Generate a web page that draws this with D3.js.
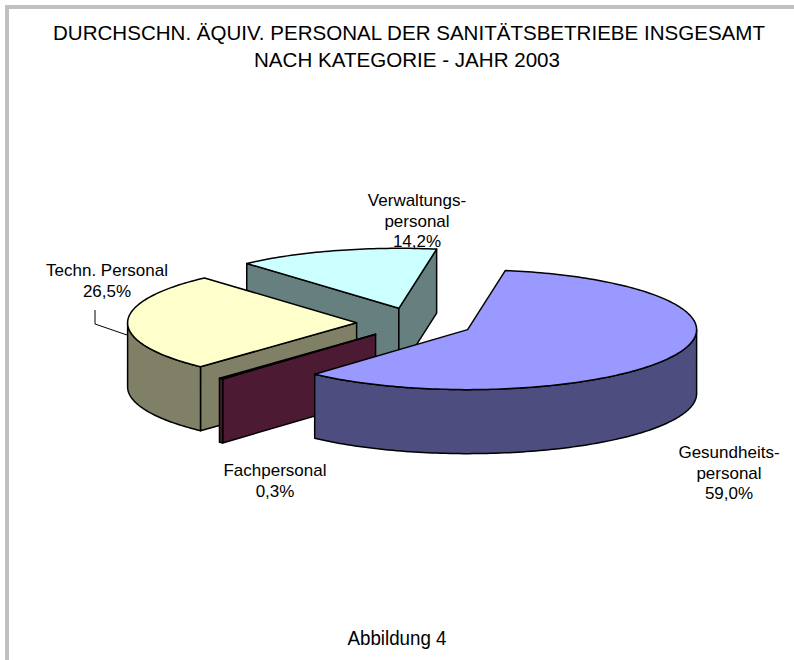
<!DOCTYPE html>
<html>
<head>
<meta charset="utf-8">
<script src="https://cdn.jsdelivr.net/npm/d3@7"></script>
<style>
  body { margin: 0; background: #fff; }
  text { font-family: "Liberation Sans", Arial, sans-serif; fill: #000; }
  .narrow { font-family: "Liberation Sans Narrow", "Arial Narrow", "Liberation Sans", sans-serif; }
</style>
</head>
<body>
<svg></svg>
<script>
const width = 794;
const height = 660;

// data
const categories = ['Gesundheitspersonal', 'Fachpersonal', 'Techn. Personal', 'Verwaltungspersonal'];
const shares = [59.0, 0.3, 26.5, 14.2];
const labelLines = [
	['Gesundheits-', 'personal', '59,0%'],
	['Fachpersonal', '0,3%'],
	['Techn. Personal', '26,5%'],
	['Verwaltungs-', 'personal', '14,2%']
];
const titleLines = ['DURCHSCHN. ÄQUIV. PERSONAL DER SANITÄTSBETRIEBE INSGESAMT', 'NACH KATEGORIE - JAHR 2003'];
const caption = 'Abbildung 4';

const svg = d3.select('svg')
	.attr('width', width)
	.attr('height', height);

// frame (top and left only)
svg.append('path')
	.attr('d', `M7,${height} V7 H${width}`)
	.attr('fill', 'none')
	.attr('stroke', '#c0c0c0')
	.attr('stroke-width', 4);

// title, squeezed to look like a narrow face
svg.append('g')
	.selectAll('text')
	.data(titleLines)
	.join('text')
		.attr('class', 'narrow')
		.attr('x', (d, i) => i === 0 ? 409 : 407)
		.attr('y', (d, i) => 40 + i * 27)
		.attr('text-anchor', 'middle')
		.attr('font-size', 21)
		.attr('textLength', (d, i) => i === 0 ? 712 : 306)
		.attr('lengthAdjust', 'spacingAndGlyphs')
		.text(d => d);

svg.append('text')
	.attr('class', 'narrow')
	.attr('x', 397)
	.attr('y', 645)
	.attr('text-anchor', 'middle')
	.attr('font-size', 21)
	.attr('textLength', 99)
	.attr('lengthAdjust', 'spacingAndGlyphs')
	.text(caption);

// 3d pie
const cx = 415, cy = 323;
const rx = 229, ry = 60;
const depth = 64;
const explode = 0.255;
const topColors = ['#9999ff', '#993366', '#ffffcc', '#ccffff'];
const sideColors = ['#4d4d80', '#4d1a33', '#808066', '#668080'];

const color = d3.scaleOrdinal().domain(categories).range(topColors);
const sideColor = d3.scaleOrdinal().domain(categories).range(sideColors);

const pie = d3.pie()
	.sort(null)
	.value(d => d.value)
	.startAngle(9.5 * Math.PI / 180)
	.endAngle(9.5 * Math.PI / 180 + 2 * Math.PI);

const slices = pie(categories.map((c, i) => ({ name: c, value: shares[i], lines: labelLines[i] })));

const line = d3.line();

slices.forEach(s => {
	const mid = (s.startAngle + s.endAngle) / 2;
	s.ox = cx + explode * rx * Math.sin(mid);
	s.oy = cy - explode * ry * Math.cos(mid);
	s.pt = a => [s.ox + rx * Math.sin(a), s.oy - ry * Math.cos(a)];
	s.arcPts = (a0, a1) => {
		const n = Math.max(2, Math.ceil((a1 - a0) / 0.02));
		return d3.range(n + 1).map(k => s.pt(a0 + (a1 - a0) * k / n));
	};
	s.maxY = d3.max(s.arcPts(s.startAngle, s.endAngle), p => p[1]);
});

// back to front
const drawOrder = slices.slice().sort((a, b) => a.maxY - b.maxY);

const pieG = svg.append('g')
	.attr('stroke', '#000')
	.attr('stroke-width', 1.5)
	.attr('stroke-linejoin', 'round');

drawOrder.forEach(s => {
	const g = pieG.append('g');
	const side = sideColor(s.data.name);
	const down = p => [p[0], p[1] + depth];

	// radial walls
	const walls = [];
	if (Math.sin(s.startAngle) < 0) walls.push(s.startAngle);
	if (Math.sin(s.endAngle) > 0) walls.push(s.endAngle);
	walls.forEach(a => {
		const p = s.pt(a), c = [s.ox, s.oy];
		g.append('path')
			.attr('d', line([c, p, down(p), down(c)]) + 'Z')
			.attr('fill', side);
	});

	// outer wall, front half only
	[0, 1].forEach(k => {
		const lo = Math.max(s.startAngle, Math.PI / 2 + k * 2 * Math.PI);
		const hi = Math.min(s.endAngle, 3 * Math.PI / 2 + k * 2 * Math.PI);
		if (hi <= lo) return;
		const top = s.arcPts(lo, hi);
		const bottom = top.map(down).reverse();
		g.append('path')
			.attr('d', line(top.concat(bottom)) + 'Z')
			.attr('fill', side);
	});

	// top face
	g.append('path')
		.attr('d', line([[s.ox, s.oy]].concat(s.arcPts(s.startAngle, s.endAngle))) + 'Z')
		.attr('fill', color(s.data.name));
});

// labels
const labelPos = {
	'Gesundheitspersonal': [729, 458],
	'Fachpersonal': [275, 476],
	'Techn. Personal': [107, 276],
	'Verwaltungspersonal': [417, 206]
};

const labels = svg.append('g')
	.selectAll('text')
	.data(slices)
	.join('text')
		.attr('text-anchor', 'middle')
		.attr('font-size', 17)
		.attr('x', d => labelPos[d.data.name][0])
		.attr('y', d => labelPos[d.data.name][1]);

labels.selectAll('tspan')
	.data(d => d.data.lines.map(t => ({ t, x: labelPos[d.data.name][0] })))
	.join('tspan')
		.attr('x', d => d.x)
		.attr('dy', (d, i) => i === 0 ? 0 : 20.5)
		.text(d => d.t);

// leader line for Techn. Personal
svg.append('path')
	.attr('d', line([[95, 310], [95, 324], [127, 335]]))
	.attr('fill', 'none')
	.attr('stroke', '#000')
	.attr('stroke-width', 1);
</script>
</body>
</html>
